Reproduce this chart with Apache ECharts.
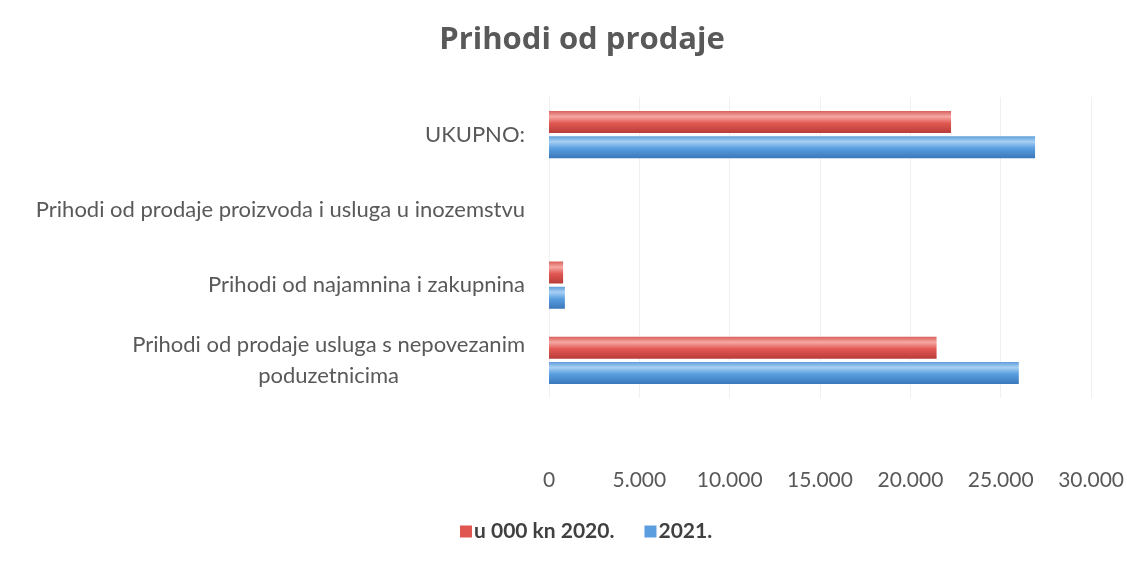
<!DOCTYPE html>
<html>
<head>
<meta charset="utf-8">
<script src="https://cdn.jsdelivr.net/npm/echarts@6/dist/echarts.min.js"></script>
<style>
html, body { margin: 0; padding: 0; background: #fff; }
#chart { width: 1127px; height: 566px; }
</style>
</head>
<body>
<div id="chart"></div>
<script>
// kategorije odozgo prema dolje
var categories = ['UKUPNO:', 'Prihodi od prodaje proizvoda i usluga u inozemstvu', 'Prihodi od najamnina i zakupnina', 'Prihodi od prodaje usluga s nepovezanim\npoduzetnicima'];
var values2020 = [22250, 0, 780, 21450];
var values2021 = [26900, 0, 880, 26000];
var seriesNames = ['u 000 kn 2020.', '2021.'];

var font = 'Lato, "Open Sans", sans-serif';

function grad(top, light, mid, bottom) {
	return new echarts.graphic.LinearGradient(0, 0, 0, 1, [
		{ offset: 0, color: top },
		{ offset: 0.25, color: light },
		{ offset: 0.55, color: mid },
		{ offset: 1, color: bottom }
	]);
}

var option = {
	title : {
		text : 'Prihodi od prodaje',
		left : 577,
		textAlign : 'center',
		top : 20,
		textStyle : { fontFamily : '"Open Sans", sans-serif', fontSize : 31, fontWeight : 'bold', color : '#595959' }
	},
	legend : {
		data : [
			{ name : seriesNames[0], itemStyle : { color : '#e05752' } },
			{ name : seriesNames[1], itemStyle : { color : '#5a9ee0' } }
		],
		left : 455,
		top : 516,
		itemWidth : 12,
		itemHeight : 12,
		itemGap : 30,
		icon : 'rect',
		textStyle : { fontFamily : font, fontSize : 21, fontWeight : 'bold', color : '#404040', padding : [0, 0, 0, -3] }
	},
	grid : { left : 549, right : 35, top : 97, bottom : 168 },
	xAxis : {
		type : 'value',
		min : 0,
		max : 30000,
		interval : 5000,
		axisLine : { show : false },
		axisTick : { show : false },
		splitLine : { lineStyle : { color : '#f0f0f0' } },
		axisLabel : {
			margin : 72,
			fontFamily : font,
			fontSize : 21,
			color : '#595959',
			formatter : function (v) { return String(v).replace(/\B(?=(\d{3})+(?!\d))/g, '.'); }
		}
	},
	yAxis : {
		type : 'category',
		inverse : true,
		data : categories,
		axisLine : { show : false },
		axisTick : { show : false },
		axisLabel : {
			margin : 24,
			formatter : function (v) { return '{c|' + v.split('\n').join('}\n{c|') + '}'; },
			rich : {
				c : { align : 'center', fontFamily : font, fontSize : 22, lineHeight : 31, color : '#595959' }
			}
		}
	},
	series : [ {
		name : seriesNames[0],
		type : 'bar',
		data : values2020,
		barWidth : 22,
		barGap : '14%',
		itemStyle : { color : grad('#d9615c', '#f5a8a3', '#e25853', '#b83c38') }
	}, {
		name : seriesNames[1],
		type : 'bar',
		data : values2021,
		barWidth : 22,
		itemStyle : { color : grad('#5f9edb', '#a6d0f3', '#5a9fe0', '#3a77bb') }
	} ]
};

var myChart = echarts.init(document.getElementById('chart'));
myChart.setOption(option);
</script>
</body>
</html>
